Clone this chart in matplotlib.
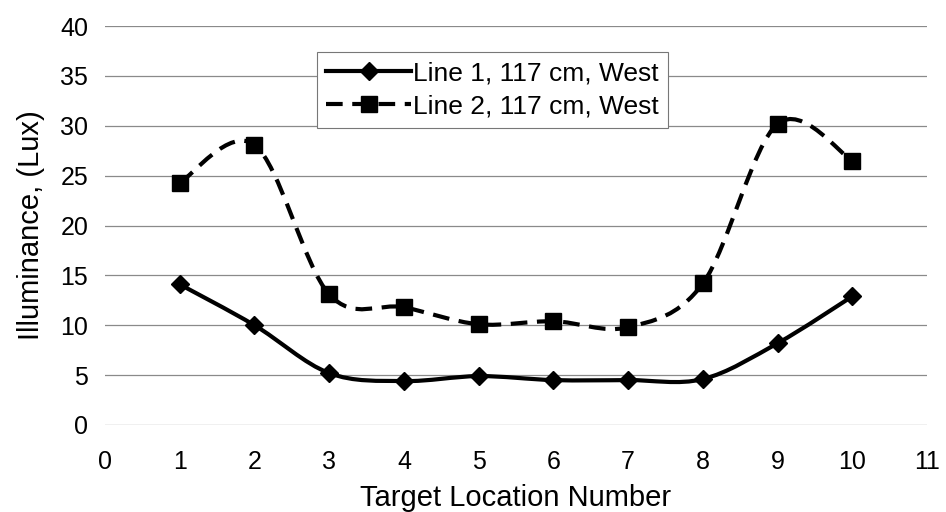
import numpy as np
import matplotlib
matplotlib.use('Agg')
import matplotlib.pyplot as plt
from matplotlib.path import Path
from matplotlib.patches import PathPatch
from matplotlib.lines import Line2D

plt.rcParams['font.family'] = ['Liberation Sans', 'DejaVu Sans']

# data
locations = [1, 2, 3, 4, 5, 6, 7, 8, 9, 10]
line1 = [14.1, 10.0, 5.2, 4.4, 4.9, 4.5, 4.5, 4.6, 8.2, 12.9]
line2 = [24.3, 28.1, 13.1, 11.8, 10.1, 10.4, 9.8, 14.2, 30.2, 26.5]
label1 = 'Line 1, 117 cm, West'
label2 = 'Line 2, 117 cm, West'
x_ticks = list(range(0, 12))
y_ticks = list(range(0, 45, 5))

LW = 3.0
DASH = (0, (4, 2.3))


def smooth_path(xs, ys):
    # Excel-like smoothed line: cubic Bezier segments through each point
    p = np.column_stack([xs, ys]).astype(float)
    n = len(p)
    verts = [p[0]]
    codes = [Path.MOVETO]
    for i in range(n - 1):
        p_prev = p[i - 1] if i > 0 else p[i]
        p_next2 = p[i + 2] if i + 2 < n else p[i + 1]
        c1 = p[i] + (p[i + 1] - p_prev) / 6.0
        c2 = p[i + 1] - (p_next2 - p[i]) / 6.0
        verts += [c1, c2, p[i + 1]]
        codes += [Path.CURVE4] * 3
    return Path(verts, codes)


fig = plt.figure(figsize=(9.46, 5.12), dpi=100)
ax = fig.add_axes([0.111, 0.170, 0.869, 0.779])

ax.add_patch(PathPatch(smooth_path(locations, line1), facecolor='none',
                       edgecolor='black', lw=LW, zorder=3))
ax.add_patch(PathPatch(smooth_path(locations, line2), facecolor='none',
                       edgecolor='black', lw=LW, linestyle=DASH, zorder=3))
ax.plot(locations, line1, ls='none', marker='D', ms=9, color='black', zorder=4)
ax.plot(locations, line2, ls='none', marker='s', ms=11, color='black', zorder=4)

ax.set_xlim(0, 11)
ax.set_ylim(0, 40)
ax.set_xticks(x_ticks)
ax.set_yticks(y_ticks)
ax.tick_params(length=0, labelsize=18)
ax.tick_params(axis='x', pad=18)
ax.tick_params(axis='y', pad=12)
ax.yaxis.grid(True, color='#8a8a8a', lw=0.9)
ax.set_axisbelow(True)
for s in ax.spines.values():
    s.set_visible(False)

ax.set_xlabel('Target Location Number', fontsize=21, labelpad=7)
ax.set_ylabel('Illuminance, (Lux)', fontsize=21, labelpad=11)

handles = [
    Line2D([], [], color='black', lw=LW, marker='D', ms=9),
    Line2D([], [], color='black', lw=LW, ls=DASH, marker='s', ms=11),
]
leg = ax.legend(handles, [label1, label2], loc='upper left',
                bbox_to_anchor=(0.258, 0.935), fontsize=19, handlelength=3.2,
                handletextpad=0.1, borderaxespad=0, fancybox=False,
                framealpha=1, edgecolor='#777777', borderpad=0.35,
                labelspacing=0.35)
leg.get_frame().set_linewidth(0.8)

fig.savefig('out.png', dpi=100)
